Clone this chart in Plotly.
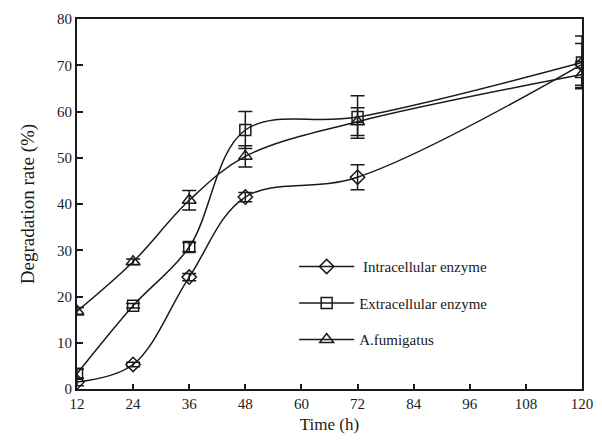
import plotly.graph_objects as go

time_h = [12, 24, 36, 48, 72, 120]
intra = [1.5, 5.3, 24.2, 41.5, 45.8, 70.2]
intra_err = [0.8, 0.5, 0.8, 1.0, 2.7, 4.5]
extra = [3.3, 18.0, 30.7, 56.0, 58.8, 70.6]
extra_err = [1.0, 0.5, 1.0, 4.0, 4.6, 5.7]
afum = [16.8, 27.5, 40.8, 50.3, 57.8, 68.0]
afum_err = [0.8, 0.6, 2.1, 2.3, 3.0, 2.8]
names = [" Intracellular enzyme", "Extracellular enzyme", "A.fumigatus"]
x_ticks = [12, 24, 36, 48, 60, 72, 84, 96, 108, 120]
y_ticks = [0, 10, 20, 30, 40, 50, 60, 70, 80]

font = "Liberation Serif, Times New Roman, serif"
ink = "#1a1a1a"
fig = go.Figure()
series = [(intra, intra_err, "diamond-open", 11),
          (extra, extra_err, "square-open", 11),
          (afum, afum_err, "triangle-up-open", 12)]
for i, (ys, es, sym, sz) in enumerate(series):
    fig.add_trace(go.Scatter(
        x=time_h, y=ys, name=names[i], mode="lines+markers",
        legendgroup=str(i),
        line=dict(color=ink, width=1.5, shape="spline", smoothing=1),
        marker=dict(symbol=sym, size=sz, color=ink, line=dict(width=1.5, color=ink)),
        error_y=dict(type="data", array=es, visible=True, color=ink, thickness=1.5, width=7),
    ))

fig.update_layout(
    width=602, height=441,
    margin=dict(l=77, r=9, t=19, b=52),
    paper_bgcolor="white", plot_bgcolor="white",
    font=dict(family=font, size=15, color=ink),
    showlegend=True,
    legend=dict(x=0.43, y=0.375, xanchor="left", yanchor="top",
                bgcolor="rgba(0,0,0,0)", font=dict(size=15, family=font, color=ink),
                tracegroupgap=14, traceorder="grouped", itemwidth=55),
)
fig.update_xaxes(range=[12, 120], tickvals=x_ticks, ticks="inside", ticklen=5,
                 tickcolor=ink, tickwidth=1.5, showline=True, linecolor=ink,
                 linewidth=2, mirror=True, showgrid=False, zeroline=False,
                 ticklabeloverflow="allow",
                 title=dict(text="Time (h)", standoff=7, font=dict(size=17)),
                 tickfont=dict(size=15))
fig.update_yaxes(range=[0, 80], tickvals=y_ticks, ticks="inside", ticklen=6,
                 tickcolor=ink, tickwidth=1.5, showline=True, linecolor=ink,
                 linewidth=2, mirror=True, showgrid=False, zeroline=False,
                 ticklabeloverflow="allow",
                 title=dict(text="Degradation rate (%)", standoff=17, font=dict(size=19)),
                 tickfont=dict(size=15))

fig.write_html("out.html")
